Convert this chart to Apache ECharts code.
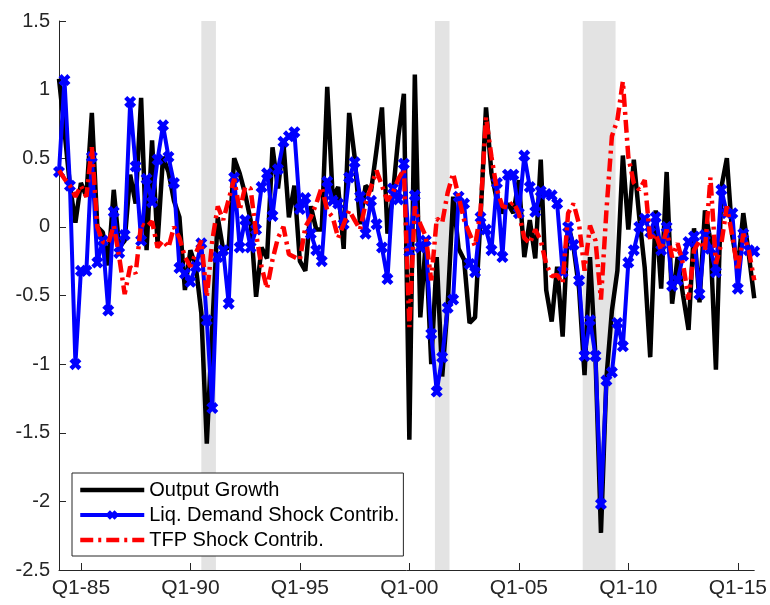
<!DOCTYPE html>
<html>
<head>
<meta charset="utf-8">
<script src="https://cdn.jsdelivr.net/npm/echarts@6/dist/echarts.min.js"></script>
<style>
html, body { margin: 0; padding: 0; background: #fff; }
#container { width: 770px; height: 605px; }
</style>
</head>
<body>
<div id="container"></div>
<script>
var startYear = 1984; // first quarter in the sample is Q1-1984

var outputGrowth = [1.08, 0.70, 0.30, 0.03, 0.32, 0.22, 0.83, 0.00, -0.04, -0.28,
    0.27, -0.15, -0.10, 0.38, 0.17, 0.94, -0.17, 0.63, -0.12, 0.51,
    0.40, 0.19, 0.07, -0.46, -0.17, -0.29, -0.63, -1.58, -0.73, 0.07,
    -0.17, -0.15, 0.50, 0.39, 0.24, 0.05, -0.51, -0.15, -0.23, 0.58,
    0.28, 0.61, 0.07, 0.30, -0.25, -0.32, 0.15, -0.02, -0.02, 1.02,
    0.21, 0.29, -0.16, 0.83, 0.51, 0.02, 0.30, 0.26, 0.56, 0.87,
    -0.05, 0.24, 0.66, 0.97, -1.55, 1.11, -0.66, -0.11, -1.00, -0.22,
    -1.09, -0.57, 0.22, -0.16, -0.24, -0.70, -0.66, 0.07, 0.87, 0.39,
    0.19, 0.10, 0.17, 0.10, 0.34, -0.22, 0.05, -0.23, 0.49, -0.46,
    -0.69, -0.29, -0.80, 0.02, -0.15, -0.45, -1.08, -0.22, -0.95, -2.23,
    -1.10, -0.61, -0.32, 0.52, -0.02, 0.49, 0.07, -0.30, -0.95, 0.12,
    -0.45, 0.40, -0.56, -0.22, -0.50, -0.75, -0.01, -0.55, 0.12, -0.10,
    -1.04, 0.29, 0.50, -0.07, -0.30, 0.10, -0.20, -0.52];

var liqDemand = [0.40, 1.07, 0.30, -1.00, -0.32, -0.32, 0.51, -0.26, -0.10, -0.61,
    0.11, -0.19, -0.06, 0.91, 0.44, -0.10, 0.35, 0.18, 0.49, 0.74,
    0.51, 0.32, -0.30, -0.34, -0.40, -0.29, -0.12, -0.68, -1.32, -0.22,
    -0.17, -0.56, 0.36, -0.15, 0.05, -0.15, -0.02, 0.29, 0.39, 0.08,
    0.42, 0.62, 0.66, 0.69, 0.13, 0.21, -0.05, -0.17, -0.25, 0.33,
    0.19, 0.17, 0.02, 0.36, 0.47, 0.22, -0.05, 0.19, 0.02, -0.15,
    -0.38, 0.28, 0.20, 0.46, -0.18, 0.23, -0.15, -0.10, -0.78, -1.20,
    -0.95, -0.59, -0.53, 0.22, 0.17, -0.27, -0.33, 0.07, -0.02, -0.17,
    0.32, -0.22, 0.38, 0.38, 0.10, 0.52, 0.29, 0.11, 0.26, 0.24,
    0.23, 0.17, -0.33, 0.00, -0.13, -0.39, -0.94, -0.68, -0.94, -2.02,
    -1.12, -1.06, -0.70, -0.87, -0.26, -0.17, 0.00, 0.06, -0.04, 0.07,
    -0.17, 0.00, -0.43, -0.39, -0.21, -0.11, -0.07, -0.49, -0.06, -0.16,
    -0.33, 0.27, 0.10, 0.10, -0.45, -0.05, -0.17, -0.18];

var tfpShock = [0.41, 0.35, 0.30, 0.22, 0.30, 0.22, 0.58, 0.00, -0.11, -0.12,
    0.01, -0.22, -0.49, -0.29, -0.34, 0.02, 0.00, 0.04, -0.15, -0.10,
    -0.15, 0.00, -0.08, -0.22, -0.29, -0.19, -0.10, -0.51, -0.10, 0.15,
    0.05, 0.20, 0.35, 0.12, 0.29, 0.28, -0.05, -0.29, -0.45, -0.24,
    -0.08, 0.00, -0.20, -0.22, -0.24, 0.00, 0.07, 0.17, 0.29, 0.12,
    0.07, -0.08, 0.02, 0.12, 0.05, -0.02, 0.17, 0.29, 0.41, 0.30,
    0.19, 0.25, 0.35, 0.42, -0.73, 0.15, 0.02, -0.07, -0.39, 0.06,
    0.03, 0.25, 0.39, 0.22, 0.05, -0.05, -0.14, 0.11, 0.80, 0.51,
    0.27, 0.15, 0.14, 0.18, 0.10, -0.08, -0.12, -0.02, -0.10, -0.27,
    -0.36, -0.35, -0.41, 0.10, 0.17, 0.02, -0.32, 0.01, -0.10, -0.53,
    0.12, 0.66, 0.78, 1.06, 0.51, 0.32, 0.27, 0.34, -0.10, -0.05,
    -0.17, -0.02, -0.22, -0.12, -0.27, -0.53, -0.17, -0.10, -0.17, 0.36,
    -0.27, -0.12, 0.15, -0.07, -0.32, -0.05, -0.17, -0.39];

// NBER recessions (peak month -> trough month), in decimal years
var recessions = [[1990.5, 1991.1667], [2001.1667, 2001.8333], [2007.9167, 2009.4167]];

var tickYears = [1985, 1990, 1995, 2000, 2005, 2010, 2015];
var tickLabels = ['Q1-85', 'Q1-90', 'Q1-95', 'Q1-00', 'Q1-05', 'Q1-10', 'Q1-15'];

var axisColor = '#262626';
var fontName = 'Liberation Sans, Arial, Helvetica, sans-serif';
// filled "x" marker
var xMarker = 'path://M2.6,0 L5,2.4 L7.4,0 L10,2.6 L7.6,5 L10,7.4 L7.4,10 L5,7.6 L2.6,10 L0,7.4 L2.4,5 L0,2.6 Z';

function toPairs(vals) {
    var out = [];
    for (var i = 0; i < vals.length; i++) {
        out.push([startYear + i / 4, vals[i]]);
    }
    return out;
}

var shadeAreas = [];
for (var r = 0; r < recessions.length; r++) {
    shadeAreas.push([{xAxis: recessions[r][0]}, {xAxis: recessions[r][1]}]);
}

var dom = document.getElementById('container');
var myChart = echarts.init(dom);
var option = {
    animation: false,
    backgroundColor: '#fff',
    grid: {left: 59, right: 13, top: 21, bottom: 35, containLabel: false},
    legend: {
        orient: 'vertical',
        left: 72,
        top: 473,
        padding: [7, 4, 6, 6],
        itemGap: 5,
        itemWidth: 64,
        itemHeight: 12,
        backgroundColor: '#fff',
        borderColor: axisColor,
        borderWidth: 1,
        borderRadius: 0,
        textStyle: {fontFamily: fontName, fontSize: 20, color: '#000'},
        data: [
            {name: 'Output Growth', itemStyle: {opacity: 0}, lineStyle: {width: 4.5}},
            {name: 'Liq. Demand Shock Contrib.', lineStyle: {width: 4}},
            {name: 'TFP Shock Contrib.', itemStyle: {opacity: 0}, lineStyle: {width: 4.5}}
        ]
    },
    xAxis: {
        type: 'value',
        min: 1984,
        max: 2015.75,
        axisLine: {onZero: false, lineStyle: {color: axisColor, width: 1}},
        axisTick: {inside: true, length: 7, customValues: tickYears, lineStyle: {color: axisColor}},
        axisLabel: {
            customValues: tickYears,
            margin: 8,
            color: axisColor,
            fontFamily: fontName,
            fontSize: 21,
            formatter: function (v) {
                var k = tickYears.indexOf(v);
                return k >= 0 ? tickLabels[k] : '';
            }
        },
        splitLine: {show: false}
    },
    yAxis: {
        type: 'value',
        min: -2.5,
        max: 1.5,
        interval: 0.5,
        axisLine: {show: true, lineStyle: {color: axisColor, width: 1}},
        axisTick: {show: true, inside: true, length: 7, lineStyle: {color: axisColor}},
        axisLabel: {color: axisColor, fontFamily: fontName, fontSize: 20, margin: 9},
        splitLine: {show: false}
    },
    series: [
        {
            name: 'Output Growth',
            type: 'line',
            data: toPairs(outputGrowth),
            symbol: 'none',
            lineStyle: {color: '#000', width: 4.5},
            itemStyle: {color: '#000'},
            z: 3,
            markArea: {
                silent: true,
                itemStyle: {color: '#e3e3e3'},
                data: shadeAreas
            }
        },
        {
            name: 'Liq. Demand Shock Contrib.',
            type: 'line',
            data: toPairs(liqDemand),
            symbol: xMarker,
            symbolSize: 12,
            showSymbol: true,
            lineStyle: {color: '#0000ff', width: 4},
            itemStyle: {color: '#0000ff'},
            z: 4
        },
        {
            name: 'TFP Shock Contrib.',
            type: 'line',
            data: toPairs(tfpShock),
            symbol: 'none',
            lineStyle: {color: '#ff0000', width: 4.5, type: [13, 5, 3, 5]},
            itemStyle: {color: '#ff0000'},
            z: 5
        }
    ]
};
if (option && typeof option === 'object') {
    myChart.setOption(option, true);
}
</script>
</body>
</html>
